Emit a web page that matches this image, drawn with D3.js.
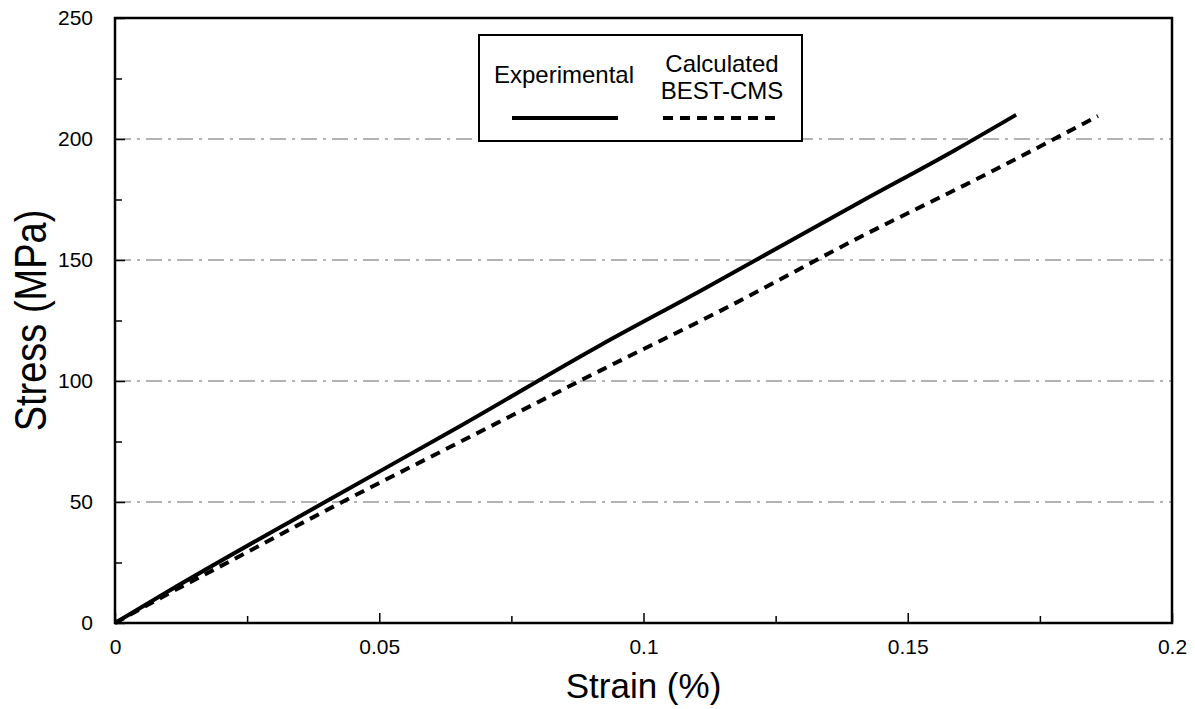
<!DOCTYPE html>
<html lang="en">
<head>
    <meta charset="UTF-8">
    <title>Stress vs. Strain</title>
    <script src="https://d3js.org/d3.v7.min.js"></script>
    <style>
        body {
            margin: 0;
            background: #fff;
            font-family: "Liberation Sans", Arial, sans-serif;
        }
        svg { display: block; }
        .tick-label { font-size: 21px; fill: #000; }
        .axis-title { font-size: 35px; fill: #000; }
        .legend-text { font-size: 24px; fill: #000; }
    </style>
</head>
<body>
    <svg id="chart"></svg>
    <script>
        // values
        const experimentalStrain = [0, 0.01, 0.0426, 0.065, 0.092, 0.111, 0.141, 0.159, 0.1705];
        const experimentalStress = [0, 13, 53.5, 81, 115, 137.5, 174, 195.5, 210];

        const calculatedStrain = [0, 0.01, 0.02, 0.043, 0.065, 0.092, 0.115, 0.141, 0.164, 0.186];
        const calculatedStress = [0, 12, 23.5, 50, 74.5, 104.5, 129.5, 159.5, 184.5, 209.5];

        const xTicks = [0, 0.05, 0.1, 0.15, 0.2];
        const xTickLabels = ["0", "0.05", "0.1", "0.15", "0.2"];
        const yTicks = [0, 50, 100, 150, 200, 250];
        const yMinorTicks = [25, 75, 125, 175, 225];
        const xMinorTicks = [0.025, 0.075, 0.125, 0.175];
        const gridValues = [50, 100, 150, 200];

        const W = 1195, H = 709;
        const margin = { top: 18, right: 23, bottom: 86, left: 115 };
        const width = W - margin.left - margin.right;
        const height = H - margin.top - margin.bottom;

        const svg = d3.select("#chart").attr("width", W).attr("height", H);
        const g = svg.append("g").attr("transform", `translate(${margin.left},${margin.top})`);

        const x = d3.scaleLinear().domain([0, 0.2]).range([0, width]);
        const y = d3.scaleLinear().domain([0, 250]).range([height, 0]);

        // faint dash-dot gridlines
        g.selectAll(".grid")
            .data(gridValues)
            .enter().append("line")
            .attr("x1", 0).attr("x2", width)
            .attr("y1", d => y(d)).attr("y2", d => y(d))
            .attr("stroke", "#666")
            .attr("stroke-width", 1)
            .attr("stroke-dasharray", "16,6,3,6");

        // inward ticks
        const yAxis = d3.axisLeft(y).tickValues(yTicks).tickSize(-10).tickPadding(22).tickFormat(d3.format("d"));
        const yAxisG = g.append("g").call(yAxis);
        yAxisG.select(".domain").remove();
        yAxisG.selectAll("text").attr("class", "tick-label").style("font-family", "inherit");
        yAxisG.selectAll("line").attr("stroke-width", 1.5);

        const yMinor = g.append("g").call(d3.axisLeft(y).tickValues(yMinorTicks).tickSize(-7).tickFormat(""));
        yMinor.select(".domain").remove();
        yMinor.selectAll("line").attr("stroke-width", 1.5);

        const xAxis = d3.axisBottom(x).tickValues(xTicks).tickSize(-10).tickPadding(16)
            .tickFormat((d, i) => xTickLabels[i]);
        const xAxisG = g.append("g").attr("transform", `translate(0,${height})`).call(xAxis);
        xAxisG.select(".domain").remove();
        xAxisG.selectAll("text").attr("class", "tick-label").style("font-family", "inherit");
        xAxisG.selectAll("line").attr("stroke-width", 1.5);

        const xMinor = g.append("g").attr("transform", `translate(0,${height})`)
            .call(d3.axisBottom(x).tickValues(xMinorTicks).tickSize(-7).tickFormat(""));
        xMinor.select(".domain").remove();
        xMinor.selectAll("line").attr("stroke-width", 1.5);

        // frame
        g.append("rect")
            .attr("x", 0).attr("y", 0)
            .attr("width", width).attr("height", height)
            .attr("fill", "none")
            .attr("stroke", "#000")
            .attr("stroke-width", 2.5);

        const line = d3.line().curve(d3.curveMonotoneX).x(d => x(d[0])).y(d => y(d[1]));

        g.append("path")
            .datum(d3.zip(experimentalStrain, experimentalStress))
            .attr("d", line)
            .attr("fill", "none")
            .attr("stroke", "#000")
            .attr("stroke-width", 4);

        g.append("path")
            .datum(d3.zip(calculatedStrain, calculatedStress))
            .attr("d", line)
            .attr("fill", "none")
            .attr("stroke", "#000")
            .attr("stroke-width", 4)
            .attr("stroke-dasharray", "10,7");

        // legend
        const lg = g.append("g").attr("transform", `translate(${479 - margin.left},${35 - margin.top})`);
        lg.append("rect")
            .attr("width", 323).attr("height", 106)
            .attr("fill", "#fff")
            .attr("stroke", "#000")
            .attr("stroke-width", 2);
        lg.append("text").attr("class", "legend-text")
            .attr("x", 85).attr("y", 48).attr("text-anchor", "middle").text("Experimental");
        lg.append("text").attr("class", "legend-text")
            .attr("x", 243).attr("y", 37).attr("text-anchor", "middle").text("Calculated");
        lg.append("text").attr("class", "legend-text")
            .attr("x", 243).attr("y", 64).attr("text-anchor", "middle").text("BEST-CMS");
        lg.append("line")
            .attr("x1", 33).attr("x2", 139).attr("y1", 83).attr("y2", 83)
            .attr("stroke", "#000").attr("stroke-width", 4);
        lg.append("line")
            .attr("x1", 184).attr("x2", 301).attr("y1", 83).attr("y2", 83)
            .attr("stroke", "#000").attr("stroke-width", 4)
            .attr("stroke-dasharray", "10,7");

        // axis titles
        svg.append("text")
            .attr("class", "axis-title")
            .attr("x", margin.left + x(0.1))
            .attr("y", 698)
            .attr("text-anchor", "middle")
            .text("Strain (%)");

        svg.append("text")
            .attr("class", "axis-title")
            .attr("transform", `translate(46,${margin.top + y(125)}) rotate(-90) scale(1,1.15)`)
            .attr("text-anchor", "middle")
            .style("font-size", "38px")
            .text("Stress (MPa)");
    </script>
</body>
</html>
